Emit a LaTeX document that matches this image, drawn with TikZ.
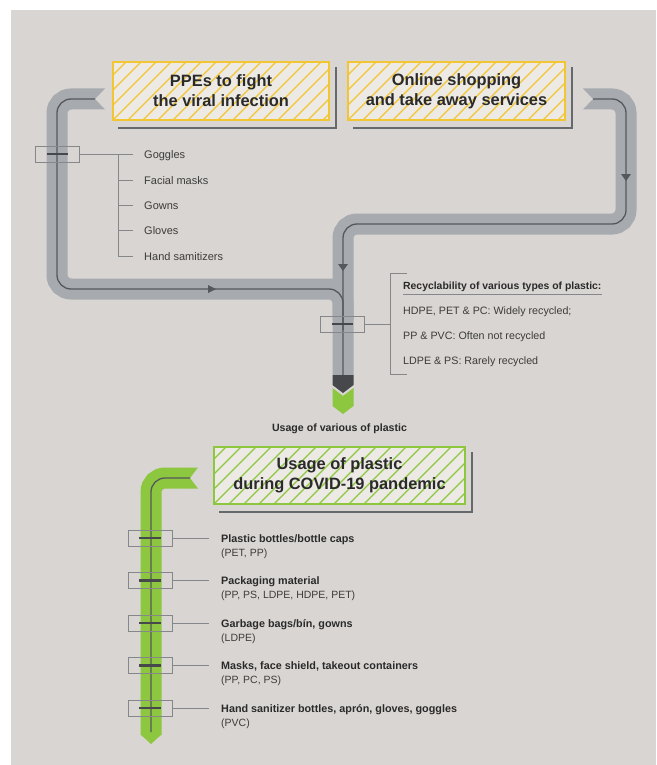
\documentclass[tikz,border=0pt]{standalone}
\usepackage{fontspec}
\setmainfont{Liberation Sans}
\usetikzlibrary{calc}

\begin{document}
\begin{tikzpicture}[x=1pt, y=-1pt,
    pipe/.style={line width=21pt, rounded corners=14pt},
    core/.style={draw=lineDark, line width=1.3pt, rounded corners=14pt},
    tick/.style={draw=tickGrey, line width=0.8pt},
    bar/.style={draw=capDark, line width=2.6pt},
    joint/.style={draw=tickGrey, line width=0.8pt, minimum width=44pt, minimum height=16pt, inner sep=0pt},
    shadowline/.style={draw=shadowGrey, line width=1.6pt},
    titlebox/.style={draw=#1, line width=2pt, fill=boxLight, inner sep=0pt, align=center,
        text=textDark, font=\fontsize{16.4}{20}\selectfont\bfseries,
        path picture={\foreach \k in {-6,...,22}
            \draw[#1, line width=1.3pt] ($(path picture bounding box.south west)+(\k*15,0)$) -- ++(75,-75);}},
    listitem/.style={inner sep=0pt, text=textGrey, font=\fontsize{11}{13}\selectfont},
    itemhead/.style={inner sep=0pt, text=textDark, font=\fontsize{10.8}{13}\selectfont\bfseries},
    itemsub/.style={inner sep=0pt, text=textGrey, font=\fontsize{10.5}{13}\selectfont}]

    \definecolor{bgColour}{HTML}{D9D5D2}
    \definecolor{pipeGrey}{HTML}{A7AAAE}
    \definecolor{lineDark}{HTML}{55585C}
    \definecolor{capDark}{HTML}{46484B}
    \definecolor{pipeGreen}{HTML}{8DC63F}
    \definecolor{hatchYellow}{HTML}{F2C632}
    \definecolor{hatchGreen}{HTML}{8DC63F}
    \definecolor{boxLight}{HTML}{EDEAE6}
    \definecolor{shadowGrey}{HTML}{66696C}
    \definecolor{textDark}{HTML}{2A2A2A}
    \definecolor{textGrey}{HTML}{3C3C3C}
    \definecolor{tickGrey}{HTML}{85878A}

    % Page and background
    \useasboundingbox (0,0) rectangle (656,765);
    \fill[bgColour] (11,10) rectangle (656,765);

    % Grey pipes (left branch, right branch, trunk)
    \draw[pipe, pipeGrey] (95,99) -- (57,99) -- (57,289) -- (343,289) -- (343,320);
    \draw[pipe, pipeGrey] (593,99) -- (626,99) -- (626,224) -- (343,224) -- (343,375);
    \fill[pipeGrey] (95,88.5) -- (105,88.5) -- (95,99) -- (105,109.5) -- (95,109.5) -- cycle;
    \fill[pipeGrey] (593,88.5) -- (583,88.5) -- (593,99) -- (583,109.5) -- (593,109.5) -- cycle;

    % Centre lines and flow marks
    \draw[core] (95,99) -- (57,99) -- (57,289) -- (343,289) -- (343,330);
    \draw[core] (593,99) -- (626,99) -- (626,224) -- (343,224) -- (343,375);
    \fill[lineDark] (208,285) -- (216,289) -- (208,293) -- cycle;
    \fill[lineDark] (621,174) -- (626,181) -- (631,174) -- cycle;
    \fill[lineDark] (338,264) -- (343,271) -- (348,264) -- cycle;

    % Trunk end: dark cap and green chevron
    \fill[capDark] (332.5,375) -- (353.5,375) -- (353.5,385) -- (343,393) -- (332.5,385) -- cycle;
    \fill[pipeGreen] (332.5,388) -- (343,396) -- (353.5,388) -- (353.5,406) -- (343,414) -- (332.5,406) -- cycle;

    % Title boxes with offset shadow
    \node[titlebox=hatchYellow, minimum width=216pt, minimum height=58pt] (ppe) at (221,91) {PPEs to fight\\the viral infection};
    \node[titlebox=hatchYellow, minimum width=217pt, minimum height=58pt] (shop) at (456.5,91) {Online shopping\\and take away services};
    \draw[shadowline] ($(ppe.north east)+(6,6)$) |- ($(ppe.south west)+(6,7)$);
    \draw[shadowline] ($(shop.north east)+(6,6)$) |- ($(shop.south west)+(6,7)$);

    % PPE list
    \node[joint] (j0) at (57,154) {};
    \draw[bar] ($(j0)+(-10.5,0)$) -- ++(21,0);
    \coordinate (ppeBrace) at (118,154);
    \draw[tick] (j0.east) -- (ppeBrace) -- (118,256);
    \foreach \i/\y/\name in {1/154/Goggles, 2/180/Facial masks, 3/205/Gowns, 4/230/Gloves, 5/256/Hand samitizers}{
        \node[listitem, anchor=base west] (ppe\i) at (144,\y+4) {\name};
        \draw[tick] (118,\y) -- ($(118,\y)!1!(133,\y)$);
    }

    % Recyclability note
    \node[joint] (j6) at (342,324) {};
    \draw[bar] ($(j6)+(-10.5,0)$) -- ++(21,0);
    \coordinate (recBrace) at (390,324);
    \draw[tick] (j6.east) -- (recBrace);
    \draw[tick] (407,273) -- (390,273) -- (390,374) -- (407,374);
    \node[itemhead, font=\fontsize{10.4}{13}\selectfont\bfseries, anchor=base west] (rec) at (403,289) {Recyclability of various types of plastic:};
    \draw[tick] ($(rec.base west)+(0,5)$) -- ($(rec.base east)+(0,5)$);
    \node[listitem, font=\fontsize{10.7}{13}\selectfont, anchor=base west] (rec1) at (403,314) {HDPE, PET \& PC: Widely recycled;};
    \node[listitem, font=\fontsize{10.7}{13}\selectfont, anchor=base west] (rec2) at (403,339) {PP \& PVC: Often not recycled};
    \node[listitem, font=\fontsize{10.7}{13}\selectfont, anchor=base west] (rec3) at (403,364) {LDPE \& PS: Rarely recycled};

    \node[itemhead, font=\fontsize{10.6}{13}\selectfont\bfseries] (usage) at (339.5,429) {Usage of various of plastic};

    % Green pipe
    \draw[pipe, pipeGreen] (190,478) -- (151,478) -- (151,735);
    \fill[pipeGreen] (190,467.5) -- (198,467.5) -- (190,478) -- (198,488.5) -- (190,488.5) -- cycle;
    \fill[pipeGreen] (140.5,734.5) -- (161.5,734.5) -- (151,744) -- cycle;
    \draw[core] (190,478) -- (151,478) -- (151,732);

    % Usage title box
    \node[titlebox=hatchGreen, minimum width=251pt, minimum height=57pt] (covid) at (339.5,475.5) {Usage of plastic\\during COVID-19 pandemic};
    \draw[shadowline] ($(covid.north east)+(6,6)$) |- ($(covid.south west)+(6,7)$);

    % Usage list
    \foreach \i/\y/\main/\sub in {1/538/{Plastic bottles/bottle caps}/{(PET, PP)},
            2/580.5/{Packaging material}/{(PP, PS, LDPE, HDPE, PET)},
            3/623/{Garbage bags/bín, gowns}/{(LDPE)},
            4/665.5/{Masks, face shield, takeout containers}/{(PP, PC, PS)},
            5/708/{Hand sanitizer bottles, aprón, gloves, goggles}/{(PVC)}}{
        \node[joint] (joint\i) at (150,\y) {};
        \draw[bar] ($(joint\i)+(-11,0)$) -- ++(22,0);
        \node[itemhead, anchor=base west] (use\i) at (221,\y+4) {\main};
        \node[itemsub, anchor=base west] (sub\i) at (221,\y+18) {\sub};
        \draw[tick] (joint\i.east) -- ($(joint\i.east -| use\i.west)+(-12,0)$);
    }

\end{tikzpicture}
\end{document}
